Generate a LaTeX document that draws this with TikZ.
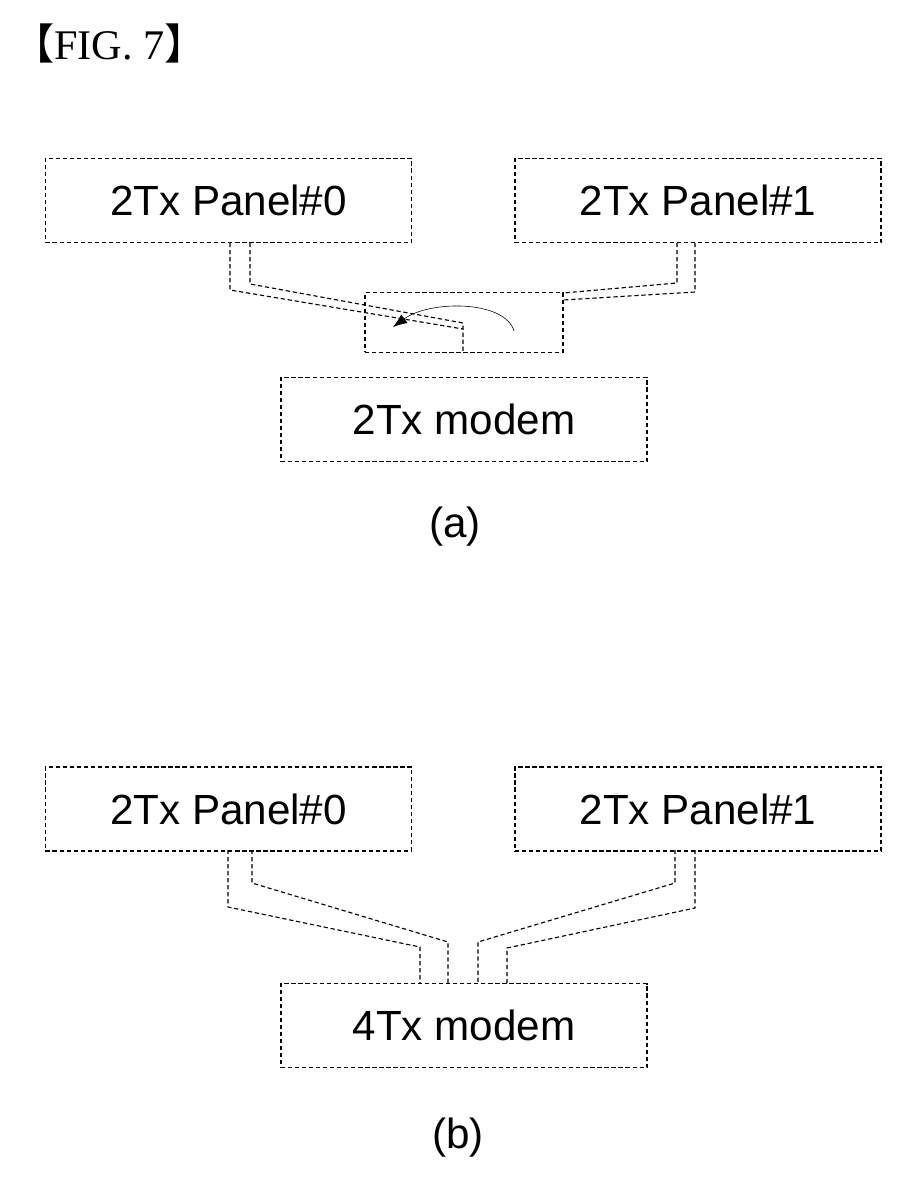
\documentclass[tikz,border=0pt]{standalone}
\usepackage{fontspec}
\setmainfont{Liberation Sans}
\newfontfamily\figfont{Liberation Serif}
\newfontfamily\cjkfont{Noto Sans CJK JP}
\usetikzlibrary{arrows.meta}
\tikzset{
  box/.style={rectangle, draw, densely dashed, thick, minimum width=9.15cm,
    minimum height=2.1cm, font=\fontsize{30}{30}\selectfont, inner sep=0pt},
  wire/.style={densely dashed, thick},
}
\begin{document}
\begin{tikzpicture}[x=0.025cm, y=-0.025cm]
  \useasboundingbox (0,0) rectangle (901,1178);
  \node[anchor=west, inner sep=0pt, font=\figfont\fontsize{30}{30}\selectfont] (fig) at (12,43)
    {{\cjkfont 【}FIG. 7{\cjkfont 】}};

  % (a)
  \node[box] (p0a) at (228.5,200.5) {2Tx Panel\#0};
  \node[box] (p1a) at (698,200.5) {2Tx Panel\#1};
  \node[box, minimum width=4.95cm, minimum height=1.48cm] (sw) at (464,322.5) {};
  \node[box] (ma) at (464,419.5) {2Tx modem};
  \node[font=\fontsize{30}{30}\selectfont] (la) at (455,527) {(a)};

  \coordinate (swp) at (463,329);
  \draw[wire] (230,243) -- (230,290) -- (swp);
  \draw[wire] (250,243) -- (250,284) -- (463,323) -- (463,352);
  \draw[wire] (695,243) -- (695,292) -- (563,300);
  \draw[wire] (677,243) -- (677,283) -- (563,293);
  \draw[thin, -{Latex[length=10pt]}] (514,331) .. controls (505,300) and (430,300) .. (393,327);

  % (b)
  \node[box] (p0b) at (228.5,809) {2Tx Panel\#0};
  \node[box] (p1b) at (698,809) {2Tx Panel\#1};
  \node[box] (mb) at (464,1025.5) {4Tx modem};
  \node[font=\fontsize{30}{30}\selectfont] (lb) at (458,1138) {(b)};

  \draw[wire] (228,850) -- (228,907) -- (420,947) -- (420,983);
  \draw[wire] (252,850) -- (252,883) -- (448,942) -- (448,983);
  \draw[wire] (675,850) -- (675,883) -- (478,942) -- (478,983);
  \draw[wire] (695,850) -- (695,908) -- (507,948) -- (507,983);
\end{tikzpicture}
\end{document}
